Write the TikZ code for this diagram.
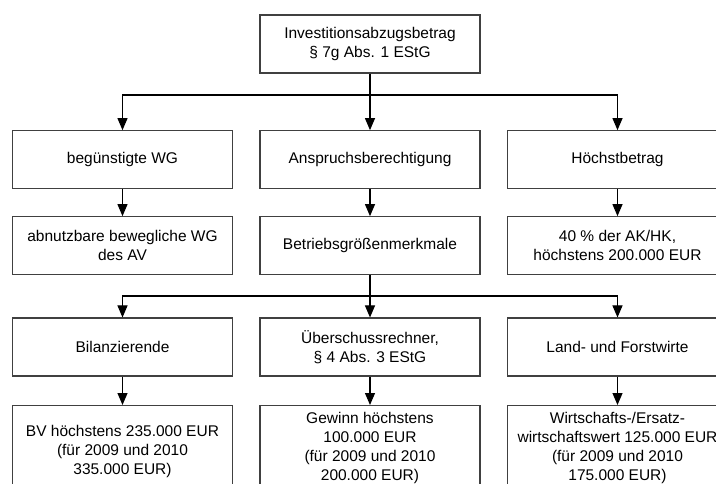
\documentclass[tikz,border=0pt]{standalone}
\usepackage{fontspec}
\setmainfont{Liberation Sans}
\usetikzlibrary{arrows.meta}
\begin{document}
\begin{tikzpicture}[x=1pt,y=-1pt,
  box/.style={draw=black!75,line width=1.1pt,minimum width=220pt,minimum height=58pt,
    inner sep=0pt,align=center,font=\fontsize{15.5}{19}\selectfont},
  tallbox/.style={box,minimum height=84pt},
  conn/.style={draw=black,line width=1.1pt},
  arr/.style={conn,-{Triangle[length=12pt,width=10pt]}}]
\useasboundingbox (0,0) rectangle (716,484);
% row 1
\node[box] (top) at (370,44) {Investitionsabzugsbetrag\\§ 7g Abs. 1 EStG};
% row 2
\node[box] (wg) at (122.5,159.7) {begünstigte WG};
\node[box] (an) at (370,159.7) {Anspruchsberechtigung};
\node[box] (hb) at (617.5,159.7) {Höchstbetrag};
% row 3
\node[box] (av) at (122.5,245.7) {abnutzbare bewegliche WG\\des AV};
\node[box] (bg) at (370,245.7) {Betriebsgrößenmerkmale};
\node[box] (pr) at (617.5,245.7) {40 \% der AK/HK,\\höchstens 200.000 EUR};
% row 4
\node[box] (bi) at (122.5,347) {Bilanzierende};
\node[box] (ue) at (370,347) {Überschussrechner,\\§ 4 Abs. 3 EStG};
\node[box] (lf) at (617.5,347) {Land- und Forstwirte};
% row 5
\node[tallbox,anchor=north] (bv) at (122.5,405) {\mbox{}\\BV höchstens 235.000 EUR\\(für 2009 und 2010\\335.000 EUR)};
\node[tallbox,anchor=north] (gw) at (370,405) {Gewinn höchstens\\100.000 EUR\\(für 2009 und 2010\\200.000 EUR)};
\node[tallbox,anchor=north] (ww) at (617.5,405) {Wirtschafts-/Ersatz-\\wirtschaftswert 125.000 EUR\\(für 2009 und 2010\\175.000 EUR)};
% junctions
\coordinate (j1) at (370,95);
\coordinate (j2) at (370,296);
% connectors
\draw[conn] (top.south) -- (j1);
\draw[arr] (j1) -| (wg.north);
\draw[arr] (j1) -- (an.north);
\draw[arr] (j1) -| (hb.north);
\draw[arr] (wg) -- (av);
\draw[arr] (an) -- (bg);
\draw[arr] (hb) -- (pr);
\draw[conn] (bg.south) -- (j2);
\draw[arr] (j2) -| (bi.north);
\draw[arr] (j2) -- (ue.north);
\draw[arr] (j2) -| (lf.north);
\draw[arr] (bi) -- (bv);
\draw[arr] (ue) -- (gw);
\draw[arr] (lf) -- (ww);
\end{tikzpicture}
\end{document}
